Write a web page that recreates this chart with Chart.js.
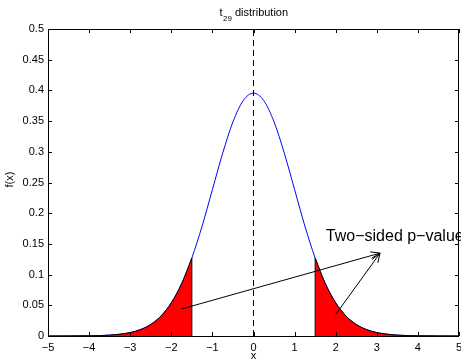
<!DOCTYPE html>
<html>
<head>
<meta charset="utf-8">
<script src="https://cdn.jsdelivr.net/npm/chart.js@4.4.0/dist/chart.umd.min.js"></script>
<style>
  html, body { margin: 0; padding: 0; background: #fff; }
  #chart { display: block; }
</style>
</head>
<body>
<canvas id="chart" width="461" height="363"></canvas>
<script>
// t(29) density
const xValues = [-5, -4.5, -4, -3.5, -3, -2.75, -2.5, -2.25, -2, -1.75, -1.5, -1.25, -1, -0.75, -0.5, -0.25,
                 0, 0.25, 0.5, 0.75, 1, 1.25, 1.5, 1.75, 2, 2.25, 2.5, 2.75, 3, 3.5, 4, 4.5, 5];
const density = [0.0000, 0.0001, 0.0003, 0.0014, 0.0055, 0.0104, 0.0188, 0.0326, 0.0540, 0.0850, 0.1270, 0.1791, 0.2384, 0.2977, 0.3487, 0.3834,
                 0.3956, 0.3834, 0.3487, 0.2977, 0.2384, 0.1791, 0.1270, 0.0850, 0.0540, 0.0326, 0.0188, 0.0104, 0.0055, 0.0014, 0.0003, 0.0001, 0.0000];
const tailCut = 1.5;

const xTicks = [-5, -4, -3, -2, -1, 0, 1, 2, 3, 4, 5];
const yTicks = [0, 0.05, 0.1, 0.15, 0.2, 0.25, 0.3, 0.35, 0.4, 0.45, 0.5];

// annotation (text position is its left baseline)
const noteText = "Two\u2212sided p\u2212value";
const notePos = [1.76, 0.155];
const arrowTip = [3.08, 0.135];
const arrowStarts = [[-1.75, 0.044], [2.0, 0.035]];

const pts = xValues.map((x, i) => ({ x: x, y: density[i] }));
const leftTail = pts.filter(p => p.x <= -tailCut);
const rightTail = pts.filter(p => p.x >= tailCut);
const cutHeight = density[xValues.indexOf(tailCut)];

function seg(a, b) {
    return [{ x: a[0], y: a[1] }, { x: b[0], y: b[1] }];
}

function lineSet(data, color, order, extra) {
    return Object.assign({
        data: data,
        borderColor: color,
        borderWidth: 1,
        pointRadius: 0,
        fill: false,
        tension: 0,
        order: order
    }, extra || {});
}

const datasets = [
    lineSet(pts, "#0000ff", 5, { cubicInterpolationMode: "monotone" }),
    lineSet(leftTail, "#000000", 4, { cubicInterpolationMode: "monotone", fill: "origin", backgroundColor: "#ff0000" }),
    lineSet(rightTail, "#000000", 4, { cubicInterpolationMode: "monotone", fill: "origin", backgroundColor: "#ff0000" }),
    lineSet(seg([-tailCut, 0], [-tailCut, cutHeight]), "#000000", 3),
    lineSet(seg([tailCut, 0], [tailCut, cutHeight]), "#000000", 3),
    lineSet(seg([0, 0], [0, 0.5]), "#000000", 2, { borderDash: [6, 4] }),
    lineSet(seg(arrowStarts[0], arrowTip), "#000000", 1),
    lineSet(seg(arrowStarts[1], arrowTip), "#000000", 1)
];

const fontFamily = "'Liberation Sans', Arial, Helvetica, sans-serif";

const decorations = {
    id: "decorations",
    afterDatasetsDraw(chart) {
        const ctx = chart.ctx;
        const area = chart.chartArea;
        const xs = chart.scales.x;
        const ys = chart.scales.y;
        ctx.save();

        // box and inward ticks (all four sides)
        ctx.strokeStyle = "#000";
        ctx.lineWidth = 1;
        ctx.strokeRect(area.left + 0.5, area.top + 0.5, area.right - area.left - 1, area.bottom - area.top);
        ctx.beginPath();
        xTicks.forEach(v => {
            const px = Math.round(xs.getPixelForValue(v)) + 0.5;
            ctx.moveTo(px, area.bottom); ctx.lineTo(px, area.bottom - 4);
            ctx.moveTo(px, area.top); ctx.lineTo(px, area.top + 4);
        });
        yTicks.forEach(v => {
            const py = Math.round(ys.getPixelForValue(v)) + 0.5;
            ctx.moveTo(area.left, py); ctx.lineTo(area.left + 4, py);
            ctx.moveTo(area.right, py); ctx.lineTo(area.right - 4, py);
        });
        ctx.stroke();

        // arrow head
        const tx = xs.getPixelForValue(arrowTip[0]);
        const ty = ys.getPixelForValue(arrowTip[1]);
        arrowStarts.forEach(s => {
            const sx = xs.getPixelForValue(s[0]);
            const sy = ys.getPixelForValue(s[1]);
            const ang = Math.atan2(ty - sy, tx - sx);
            const len = 10, spread = 0.4;
            ctx.beginPath();
            ctx.moveTo(tx - len * Math.cos(ang - spread), ty - len * Math.sin(ang - spread));
            ctx.lineTo(tx, ty);
            ctx.lineTo(tx - len * Math.cos(ang + spread), ty - len * Math.sin(ang + spread));
            ctx.stroke();
        });

        // annotation text
        ctx.fillStyle = "#000";
        ctx.font = "16px " + fontFamily;
        ctx.textAlign = "left";
        ctx.textBaseline = "alphabetic";
        ctx.fillText(noteText, xs.getPixelForValue(notePos[0]), ys.getPixelForValue(notePos[1]));

        // title with subscript
        const cx = (area.left + area.right) / 2;
        ctx.font = "11px " + fontFamily;
        const w1 = ctx.measureText("t").width;
        const w3 = ctx.measureText(" distribution").width;
        ctx.font = "8px " + fontFamily;
        const w2 = ctx.measureText("29").width;
        const x0 = cx - (w1 + w2 + w3) / 2;
        ctx.font = "11px " + fontFamily;
        ctx.fillText("t", x0, 16);
        ctx.font = "8px " + fontFamily;
        ctx.fillText("29", x0 + w1 + 0.5, 21);
        ctx.font = "11px " + fontFamily;
        ctx.fillText(" distribution", x0 + w1 + w2 + 0.5, 16);

        // axis labels
        ctx.textAlign = "center";
        ctx.textBaseline = "middle";
        ctx.fillText("x", cx, 356);
        ctx.translate(10, (area.top + area.bottom) / 2 - 3);
        ctx.rotate(-Math.PI / 2);
        ctx.fillText("f(x)", 0, 0);
        ctx.restore();
    }
};

new Chart(document.getElementById("chart"), {
    type: "line",
    data: { datasets: datasets },
    options: {
        responsive: false,
        animation: false,
        layout: { padding: { top: 29, right: 2, left: 0, bottom: 0 } },
        plugins: {
            legend: { display: false },
            tooltip: { enabled: false },
            title: { display: false }
        },
        scales: {
            x: {
                type: "linear",
                min: -5,
                max: 5,
                grid: { display: false, drawTicks: false },
                border: { display: false },
                afterBuildTicks: s => { s.ticks = xTicks.map(v => ({ value: v })); },
                afterFit: s => { s.height = 27; s.paddingLeft = 0; s.paddingRight = 0; },
                ticks: {
                    padding: 5,
                    color: "#000",
                    font: { family: fontFamily, size: 11 },
                    maxRotation: 0,
                    callback: v => (v < 0 ? "\u2212" + Math.abs(v) : String(v))
                }
            },
            y: {
                type: "linear",
                min: 0,
                max: 0.5,
                grid: { display: false, drawTicks: false },
                border: { display: false },
                afterBuildTicks: s => { s.ticks = yTicks.map(v => ({ value: v })); },
                afterFit: s => { s.width = 48; s.paddingTop = 0; s.paddingBottom = 0; },
                ticks: {
                    padding: 4,
                    color: "#000",
                    font: { family: fontFamily, size: 11 },
                    callback: v => String(Math.round(v * 100) / 100)
                }
            }
        }
    },
    plugins: [decorations]
});
</script>
</body>
</html>
